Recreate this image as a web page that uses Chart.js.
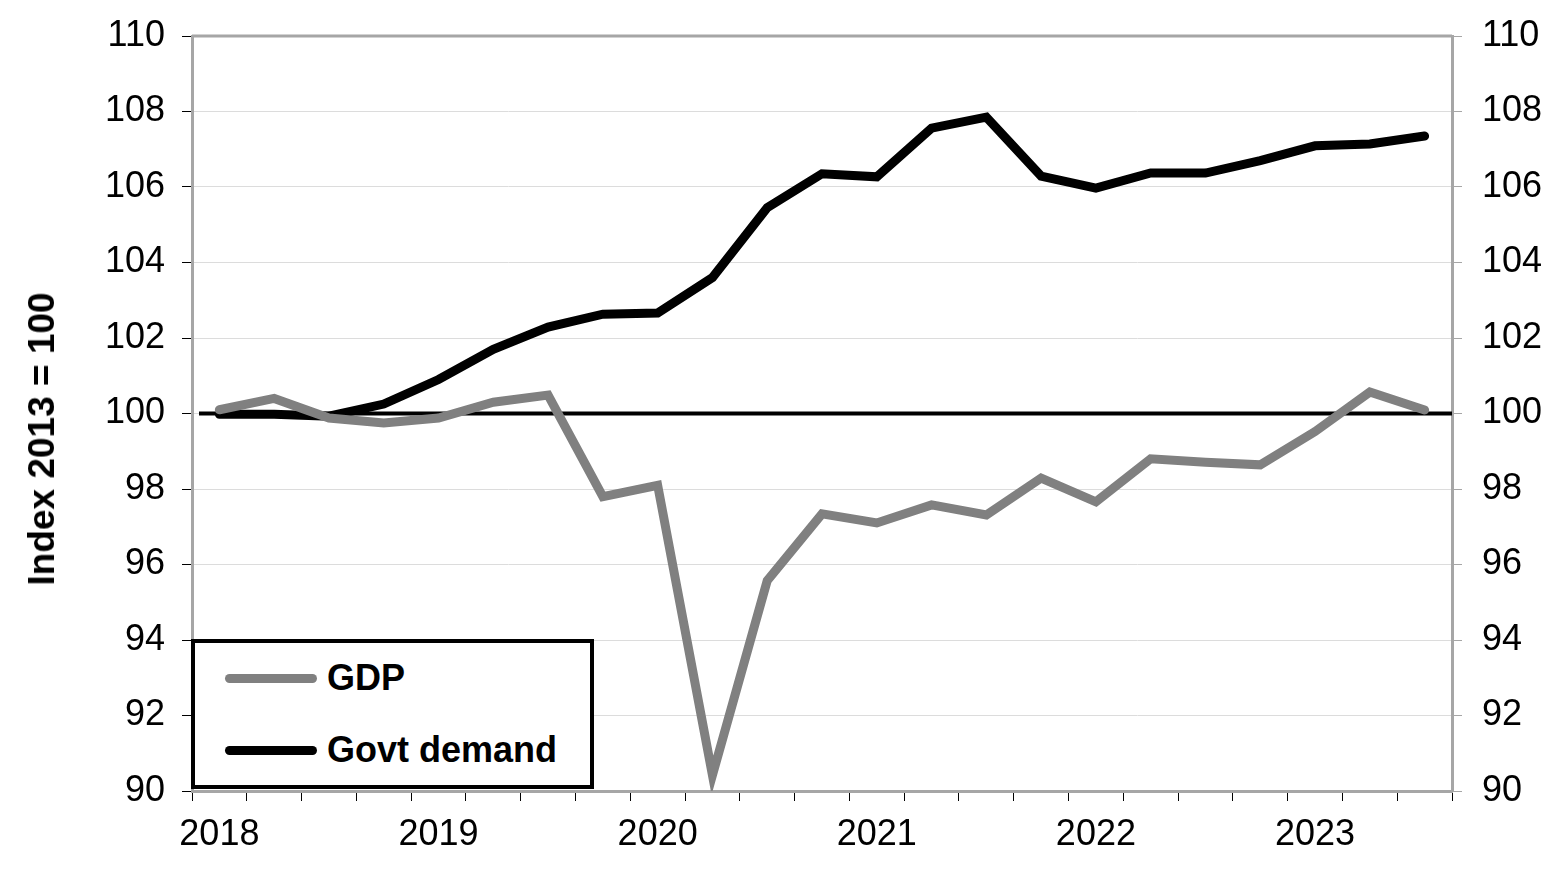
<!DOCTYPE html>
<html>
<head>
<meta charset="utf-8">
<script src="https://cdn.jsdelivr.net/npm/chart.js@4.4.1/dist/chart.umd.min.js"></script>
<style>
    body { margin: 0; background: #fff; }
    #wrap { position: relative; width: 1552px; height: 872px; }
    #legend {
        position: absolute; left: 191px; top: 639px; width: 395px; height: 142px;
        border: 4px solid #000; background: #fff;
        font-family: 'Liberation Sans', Arial, sans-serif; font-weight: bold; font-size: 36px;
    }
    .item { position: absolute; left: 30px; height: 40px; display: flex; align-items: center; }
    .swatch { width: 92px; height: 9px; border-radius: 4.5px; margin-right: 10px; }
    #ytitle {
        position: absolute; left: 42px; top: 439px;
        transform: translate(-50%, -50%) rotate(-90deg);
        white-space: nowrap;
        font-family: 'Liberation Sans', Arial, sans-serif; font-weight: bold; font-size: 37px;
    }
</style>
</head>
<body>
<div id="wrap">
    <canvas id="chart" width="1552" height="872"></canvas>
    <div id="ytitle"></div>
    <div id="legend"></div>
</div>
<script>
// Quarters, 2018Q1 .. 2023Q3
const quarters = [
    '2018Q1', '2018Q2', '2018Q3', '2018Q4',
    '2019Q1', '2019Q2', '2019Q3', '2019Q4',
    '2020Q1', '2020Q2', '2020Q3', '2020Q4',
    '2021Q1', '2021Q2', '2021Q3', '2021Q4',
    '2022Q1', '2022Q2', '2022Q3', '2022Q4',
    '2023Q1', '2023Q2', '2023Q3'
];
const yearLabels = ['2018', '2019', '2020', '2021', '2022', '2023'];
const yTitle = 'Index 2013 = 100';

const gdp = [
    100.1, 100.4, 99.88, 99.75,
    99.88, 100.3, 100.49, 97.8,
    98.1, 90.42, 95.57, 97.34,
    97.1, 97.58, 97.31, 98.29,
    97.66, 98.8, 98.71, 98.64,
    99.52, 100.57, 100.09
];
const govtDemand = [
    99.98, 99.98, 99.93, 100.25,
    100.9, 101.7, 102.29, 102.63,
    102.66, 103.6, 105.45, 106.35,
    106.27, 107.56, 107.85, 106.29,
    105.97, 106.37, 106.37, 106.7,
    107.09, 107.14, 107.35
];
const baseline = 100;

const yTicks = { min: 90, max: 110, stepSize: 2 };
const font = "'Liberation Sans', Arial, sans-serif";
const axisGrey = '#a6a6a6';

// Black reference line at 100 and grey frame on top
const framePlugin = {
    id: 'frame',
    beforeDatasetsDraw(chart) {
        const { ctx, chartArea } = chart;
        const y = chart.scales.y.getPixelForValue(baseline);
        ctx.save();
        ctx.strokeStyle = '#000';
        ctx.lineWidth = 4;
        ctx.beginPath();
        ctx.moveTo(chartArea.left + 7, y);
        ctx.lineTo(chartArea.right, y);
        ctx.stroke();
        ctx.strokeStyle = axisGrey;
        ctx.lineWidth = 3;
        ctx.beginPath();
        ctx.moveTo(chartArea.left, chartArea.top);
        ctx.lineTo(chartArea.right, chartArea.top);
        ctx.stroke();
        ctx.restore();
    }
};

function fitY(width) {
    return s => {
        s.width = width;
        s.paddingTop = 0;
        s.paddingBottom = 0;
    };
}

const chart = new Chart(document.getElementById('chart'), {
    type: 'line',
    data: {
        labels: quarters,
        datasets: [
            {
                label: 'GDP',
                data: gdp,
                borderColor: '#808080',
                borderWidth: 9,
                pointRadius: 0,
                borderCapStyle: 'round',
                tension: 0
            },
            {
                label: 'Govt demand',
                data: govtDemand,
                borderColor: '#000000',
                borderWidth: 9,
                pointRadius: 0,
                borderCapStyle: 'round',
                tension: 0
            }
        ]
    },
    options: {
        responsive: false,
        animation: false,
        layout: { padding: { top: 36, right: 0, bottom: 0, left: 0 } },
        plugins: { legend: { display: false }, tooltip: { enabled: false } },
        scales: {
            x: {
                offset: true,
                grid: { offset: true, drawOnChartArea: false, tickLength: 10, tickColor: '#000', lineWidth: 1 },
                border: { color: axisGrey, width: 3 },
                ticks: {
                    autoSkip: false,
                    maxRotation: 0,
                    padding: 12,
                    color: '#000',
                    font: { family: font, size: 36 },
                    callback: (v, i) => (i % 4 === 0 ? yearLabels[i / 4] : '')
                },
                afterFit: s => { s.height = 81; s.paddingLeft = 0; s.paddingRight = 0; }
            },
            y: {
                position: 'left',
                min: yTicks.min, max: yTicks.max,
                grid: { color: '#dcdcdc', lineWidth: 1, tickLength: 10, tickColor: '#000' },
                border: { color: axisGrey, width: 3 },
                ticks: { stepSize: yTicks.stepSize, padding: 17, color: '#000', font: { family: font, size: 36 } },
                afterFit: fitY(192)
            },
            y2: {
                position: 'right',
                min: yTicks.min, max: yTicks.max,
                grid: { drawOnChartArea: false, tickLength: 10, tickColor: axisGrey },
                border: { color: axisGrey, width: 3 },
                ticks: { stepSize: yTicks.stepSize, padding: 20, color: '#000', font: { family: font, size: 36 } },
                afterFit: fitY(100)
            }
        }
    },
    plugins: [framePlugin]
});

document.getElementById('ytitle').textContent = yTitle;

// HTML legend built from the datasets
const legend = document.getElementById('legend');
const rowTops = [15, 87];
chart.data.datasets.forEach((ds, i) => {
    const item = document.createElement('div');
    item.className = 'item';
    item.style.top = rowTops[i] + 'px';
    item.innerHTML = `<div class="swatch" style="background:${ds.borderColor}"></div><span>${ds.label}</span>`;
    legend.appendChild(item);
});
</script>
</body>
</html>
